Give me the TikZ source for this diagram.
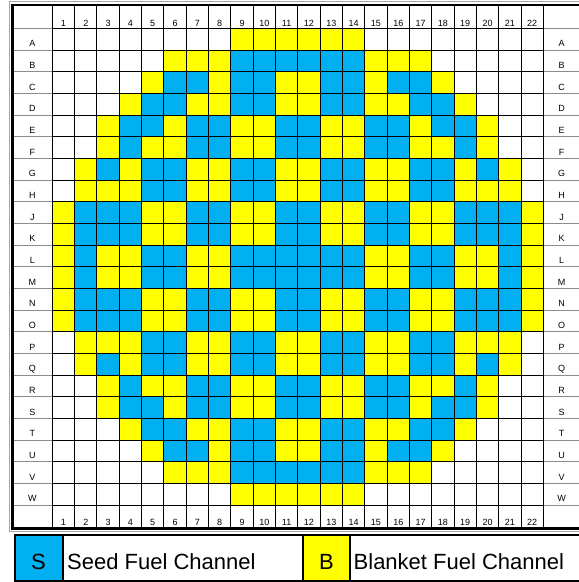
\documentclass[tikz,border=0pt]{standalone}
\usepackage{fontspec}
\setmainfont{Liberation Sans}
\definecolor{cB}{RGB}{0,176,240}
\definecolor{cY}{RGB}{255,255,0}
\definecolor{cW}{RGB}{255,255,255}
\begin{document}
\begin{tikzpicture}[x=1pt,y=-1pt,
  gridline/.style={black,line width=0.9pt},
  labline/.style={black!45,line width=0.8pt},
  frameline/.style={black,line width=2.3pt},
  outerline/.style={black!35,line width=0.8pt},
  legline/.style={black,line width=2pt},
  lbl/.style={font=\fontsize{9}{10}\selectfont,inner sep=0pt,anchor=base},
  legtext/.style={font=\fontsize{22}{24}\selectfont,inner sep=0pt,anchor=base west},
  legkey/.style={font=\fontsize{22}{24}\selectfont,inner sep=0pt,anchor=base}]
\clip (0,0) rectangle (579,582);
\fill[white] (0,0) rectangle (579,582);
\def\xo{52.3}\def\cw{22.32}\def\yo{28.3}\def\rh{21.67}
% cells
\foreach \rowcells [count=\r from 0] in {
 {W,W,W,W,W,W,W,W,Y,Y,Y,Y,Y,Y,W,W,W,W,W,W,W,W},
 {W,W,W,W,W,Y,Y,Y,B,B,B,B,B,B,Y,Y,Y,W,W,W,W,W},
 {W,W,W,W,Y,B,B,Y,B,B,Y,Y,B,B,Y,B,B,Y,W,W,W,W},
 {W,W,W,Y,B,B,Y,Y,B,B,Y,Y,B,B,Y,Y,B,B,Y,W,W,W},
 {W,W,Y,B,B,Y,B,B,Y,Y,B,B,Y,Y,B,B,Y,B,B,Y,W,W},
 {W,W,Y,B,Y,Y,B,B,Y,Y,B,B,Y,Y,B,B,Y,Y,B,Y,W,W},
 {W,Y,B,Y,B,B,Y,Y,B,B,Y,Y,B,B,Y,Y,B,B,Y,B,Y,W},
 {W,Y,Y,Y,B,B,Y,Y,B,B,Y,Y,B,B,Y,Y,B,B,Y,Y,Y,W},
 {Y,B,B,B,Y,Y,B,B,Y,Y,B,B,Y,Y,B,B,Y,Y,B,B,B,Y},
 {Y,B,B,B,Y,Y,B,B,Y,Y,B,B,Y,Y,B,B,Y,Y,B,B,B,Y},
 {Y,B,Y,Y,B,B,Y,Y,B,B,B,B,B,B,Y,Y,B,B,Y,Y,B,Y},
 {Y,B,Y,Y,B,B,Y,Y,B,B,B,B,B,B,Y,Y,B,B,Y,Y,B,Y},
 {Y,B,B,B,Y,Y,B,B,Y,Y,B,B,Y,Y,B,B,Y,Y,B,B,B,Y},
 {Y,B,B,B,Y,Y,B,B,Y,Y,B,B,Y,Y,B,B,Y,Y,B,B,B,Y},
 {W,Y,Y,Y,B,B,Y,Y,B,B,Y,Y,B,B,Y,Y,B,B,Y,Y,Y,W},
 {W,Y,B,Y,B,B,Y,Y,B,B,Y,Y,B,B,Y,Y,B,B,Y,B,Y,W},
 {W,W,Y,B,Y,Y,B,B,Y,Y,B,B,Y,Y,B,B,Y,Y,B,Y,W,W},
 {W,W,Y,B,B,Y,B,B,Y,Y,B,B,Y,Y,B,B,Y,B,B,Y,W,W},
 {W,W,W,Y,B,B,Y,Y,B,B,Y,Y,B,B,Y,Y,B,B,Y,W,W,W},
 {W,W,W,W,Y,B,B,Y,B,B,Y,Y,B,B,Y,B,B,Y,W,W,W,W},
 {W,W,W,W,W,Y,Y,Y,B,B,B,B,B,B,Y,Y,Y,W,W,W,W,W},
 {W,W,W,W,W,W,W,W,Y,Y,Y,Y,Y,Y,W,W,W,W,W,W,W,W}}{
  \foreach \k [count=\c from 0] in \rowcells {
    \fill[c\k] (\xo+\c*\cw,\yo+\r*\rh) rectangle ++(\cw,\rh);
  }
}
% label-column lines
\foreach \j in {0,...,22}{
  \draw[labline] (12.5,\yo+\j*\rh) -- (\xo,\yo+\j*\rh);
  \draw[labline] (\xo+22*\cw,\yo+\j*\rh) -- (590,\yo+\j*\rh);
}
% grid lines
\foreach \i in {0,...,22}
  \draw[gridline] (\xo+\i*\cw,4.7) -- (\xo+\i*\cw,528.5);
\foreach \j in {0,...,22}
  \draw[gridline] (\xo,\yo+\j*\rh) -- (\xo+22*\cw,\yo+\j*\rh);
% frame
\draw[outerline] (590,1.7) -- (9.7,1.7) -- (9.7,531.5) -- (590,531.5);
\draw[frameline] (590,4.7) -- (12.5,4.7) -- (12.5,528.5) -- (590,528.5);
% column numbers
\foreach \i in {1,...,22}{
  \node[lbl] (top\i) at (\xo+\i*\cw-0.5*\cw,26) {\i};
  \node[lbl] (bot\i) at (\xo+\i*\cw-0.5*\cw,525) {\i};
}
% row letters
\foreach \L [count=\j from 1] in {A,B,C,D,E,F,G,H,J,K,L,M,N,O,P,Q,R,S,T,U,V,W}{
  \node[lbl] (left\L) at (32.4,\yo+\j*\rh-3.3) {\L};
  \node[lbl] (right\L) at (561.7,\yo+\j*\rh-3.3) {\L};
}
% legend
\path[fill=cB] (14.5,535) rectangle (62.5,581);
\path[fill=cY] (302.7,535) rectangle (350,581);
\draw[legline] (590,535) -- (14.5,535) -- (14.5,581) -- (590,581);
\draw[legline] (62.5,535) -- (62.5,581);
\draw[legline] (302.7,535) -- (302.7,581);
\draw[legline] (350,535) -- (350,581);
\node[legkey] (keyS) at (38.5,569) {S};
\node[legtext] (textS) at (67,569) {Seed Fuel Channel};
\node[legkey] (keyB) at (326.4,569) {B};
\node[legtext] (textB) at (353.5,569) {Blanket Fuel Channel};
\end{tikzpicture}
\end{document}
